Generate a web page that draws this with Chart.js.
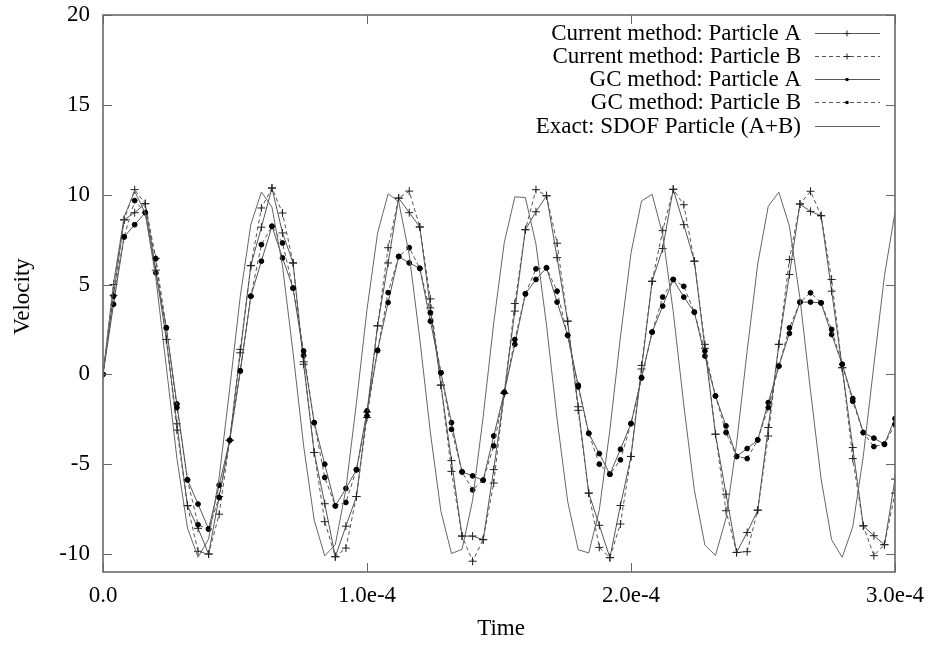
<!DOCTYPE html>
<html>
<head>
<meta charset="utf-8">
<script src="https://cdn.jsdelivr.net/npm/chart.js@4/dist/chart.umd.min.js"></script>
<style>
html,body{margin:0;padding:0;background:#ffffff;}
#wrap{width:928px;height:645px;position:relative;}
</style>
</head>
<body>
<div id="wrap"><canvas id="c" width="928" height="645"></canvas></div>
<script>
const timeMicro = [0,4,8,12,16,20,24,28,32,36,40,44,48,52,56,60,64,68,72,76,80,84,88,92,96,100,104,108,112,116,120,124,128,132,136,140,144,148,152,156,160,164,168,172,176,180,184,188,192,196,200,204,208,212,216,220,224,228,232,236,240,244,248,252,256,260,264,268,272,276,280,284,288,292,296,300];

const seriesNames = ['Current method: Particle A','Current method: Particle B','GC method: Particle A','GC method: Particle B','Exact: SDOF Particle (A+B)'];

const currentA = [0,4.4,8.6,9.0,9.5,5.8,1.94,-2.75,-7.31,-8.57,-10.0,-6.8,-3.67,1.2,6.05,8.19,10.37,7.87,6.2,0.56,-4.35,-7.2,-10.15,-8.45,-6.8,-2.1,2.7,6.2,9.81,9.0,8.2,3.7,-0.6,-4.8,-9.0,-9.0,-9.2,-5.3,-1.05,3.52,8.05,9.05,9.94,6.5,2.96,-1.8,-6.61,-8.4,-10.2,-7.3,-4.57,0.3,5.18,7.0,10.3,8.33,6.3,1.45,-3.33,-6.67,-9.91,-8.8,-7.56,-2.96,1.67,5.56,9.48,9.07,8.83,4.63,0.37,-4.07,-8.43,-8.98,-9.48,-5.83];
const currentB = [0,5.0,8.6,10.28,9.5,6.45,1.94,-3.1,-7.31,-9.85,-10.0,-7.78,-3.67,1.39,6.05,9.26,10.37,8.98,6.2,0.7,-4.35,-8.2,-10.15,-9.67,-6.8,-2.4,2.7,7.05,9.81,10.2,8.2,4.2,-0.6,-5.4,-9.0,-10.4,-9.2,-6.05,-1.05,3.94,8.05,10.28,9.94,7.3,2.96,-2.0,-6.61,-9.63,-10.2,-8.33,-4.57,0.5,5.18,8.0,10.3,9.44,6.3,1.67,-3.33,-7.59,-9.91,-9.87,-7.56,-3.43,1.67,6.39,9.48,10.19,8.83,5.28,0.37,-4.69,-8.43,-10.09,-9.48,-6.61];
const gcA = [0,3.9,7.65,8.33,9.0,5.65,2.59,-1.65,-5.87,-7.22,-8.61,-6.17,-3.67,0.18,4.35,6.3,8.24,6.48,4.8,1.05,-2.69,-5.0,-7.32,-6.35,-5.31,-2.04,1.33,4.0,6.56,6.2,5.9,2.96,0.09,-2.69,-5.43,-5.65,-5.89,-3.43,-1.0,1.67,4.48,5.28,5.93,4.02,2.17,-0.6,-3.28,-4.41,-5.56,-4.17,-2.74,-0.18,2.35,3.8,5.28,4.3,3.46,1.02,-1.2,-2.87,-4.57,-4.13,-3.65,-1.57,0.46,2.28,4.02,4.02,3.98,2.22,0.56,-1.35,-3.24,-3.55,-3.89,-2.46];
const gcB = [0,4.35,7.65,9.67,9.0,6.44,2.59,-1.85,-5.87,-8.37,-8.61,-6.85,-3.67,0.2,4.35,7.22,8.24,7.31,4.8,1.3,-2.69,-5.74,-7.32,-7.13,-5.31,-2.31,1.33,4.55,6.56,7.05,5.9,3.43,0.09,-3.06,-5.43,-6.43,-5.89,-3.98,-1.0,1.94,4.48,5.87,5.93,4.63,2.17,-0.7,-3.28,-5.0,-5.56,-4.76,-2.74,-0.2,2.35,4.3,5.28,4.9,3.46,1.3,-1.2,-3.24,-4.57,-4.69,-3.65,-1.85,0.46,2.59,4.02,4.54,3.98,2.5,0.56,-1.5,-3.24,-4.02,-3.89,-2.78];
const exact = [0,5.04,8.77,10.2,8.97,5.39,0.4,-4.68,-8.55,-10.18,-9.16,-5.74,-0.79,4.34,8.34,10.15,9.31,6.03,1.19,-3.98,-8.11,-10.1,-9.47,-6.39,-1.58,3.61,7.85,10.05,9.61,6.66,1.97,-3.23,-7.62,-9.97,-9.74,-7.01,-2.36,2.86,7.33,9.88,9.84,7.25,2.74,-2.48,-7.06,-9.76,-9.94,-7.54,-3.1,2.09,6.76,9.65,10.02,7.78,3.49,-1.71,-6.45,-9.5,-10.08,-8.0,-3.84,1.31,6.14,9.36,10.14,8.26,4.23,-0.92,-5.82,-9.21,-10.18,-8.49,-4.55,0.52,5.49,9.03];

const xTicks = [0, 1e-4, 2e-4, 3e-4];
const xTickLabels = ['0.0','1.0e-4','2.0e-4','3.0e-4'];
const yTicks = [-10,-5,0,5,10,15,20];
const xTitle = 'Time';
const yTitle = 'Velocity';

const FONT = "'Liberation Serif', 'DejaVu Serif', serif";
const FS = 23;
const LINE = '#555555';
const MARK = '#222222';
const DASH = [4,3];

function pts(arr){ return arr.map((v,i)=>({x: timeMicro[i]*1e-6, y: v})); }

const styles = [
  {dash: [], mark: 'cross'},
  {dash: DASH, mark: 'cross'},
  {dash: [], mark: 'circle'},
  {dash: DASH, mark: 'circle'},
  {dash: [], mark: null}
];
const allSeries = [currentA, currentB, gcA, gcB, exact];

const datasets = allSeries.map((arr, i) => {
  const st = styles[i];
  return {
    label: seriesNames[i],
    data: pts(arr),
    borderColor: i === 4 ? '#666666' : LINE,
    borderWidth: 1,
    borderDash: st.dash,
    backgroundColor: MARK,
    pointStyle: st.mark || 'circle',
    pointRadius: st.mark === 'cross' ? 4 : (st.mark === 'circle' ? 2.4 : 0),
    pointBorderColor: st.mark === 'circle' ? '#000' : MARK,
    pointBackgroundColor: '#000',
    pointBorderWidth: 1,
    pointHoverRadius: 0,
    tension: 0,
    fill: false,
    order: 5 - i
  };
});

const framePlugin = {
  id: 'frame',
  afterDraw(chart) {
    const {ctx, chartArea: a, scales: {x, y}} = chart;
    ctx.save();
    ctx.strokeStyle = '#666';
    ctx.lineWidth = 1;
    ctx.setLineDash([]);
    ctx.beginPath();
    for (const v of yTicks) {
      const py = Math.round(y.getPixelForValue(v)) + 0.5;
      ctx.moveTo(a.left, py); ctx.lineTo(a.left + 9, py);
      ctx.moveTo(a.right, py); ctx.lineTo(a.right - 9, py);
    }
    for (const v of xTicks) {
      const px = Math.round(x.getPixelForValue(v)) + 0.5;
      ctx.moveTo(px, a.bottom); ctx.lineTo(px, a.bottom - 9);
      ctx.moveTo(px, a.top); ctx.lineTo(px, a.top + 9);
    }
    ctx.stroke();
    ctx.lineWidth = 1.6;
    ctx.strokeStyle = '#6a6a6a';
    ctx.strokeRect(a.left, a.top, a.right - a.left, a.bottom - a.top);

    ctx.fillStyle = '#000';
    ctx.font = FS + 'px ' + FONT;
    ctx.textAlign = 'center';
    ctx.textBaseline = 'middle';
    ctx.fillText(xTitle, (a.left + a.right) / 2 + 2, 629);
    ctx.save();
    ctx.translate(23, (a.top + a.bottom) / 2 + 3);
    ctx.rotate(-Math.PI / 2);
    ctx.fillText(yTitle, 0, 0);
    ctx.restore();

    const textRight = 801, l0 = 815, l1 = 880, lc = 847;
    ctx.textAlign = 'right';
    chart.data.datasets.forEach((ds, i) => {
      const yy = 32.5 + i * 23.3;
      ctx.fillStyle = '#000';
      ctx.fillText(ds.label, textRight, yy + 1);
      const py = Math.round(yy) + 0.5;
      ctx.strokeStyle = ds.borderColor;
      ctx.lineWidth = 1;
      ctx.setLineDash(ds.borderDash);
      ctx.beginPath(); ctx.moveTo(l0, py); ctx.lineTo(l1, py); ctx.stroke();
      ctx.setLineDash([]);
      if (styles[i].mark === 'cross') {
        ctx.strokeStyle = MARK;
        ctx.beginPath();
        ctx.moveTo(lc - 3, py); ctx.lineTo(lc + 3, py);
        ctx.moveTo(lc, py - 3); ctx.lineTo(lc, py + 3);
        ctx.stroke();
      } else if (styles[i].mark === 'circle') {
        ctx.fillStyle = '#000';
        ctx.beginPath(); ctx.arc(lc, py, 1.8, 0, Math.PI * 2); ctx.fill();
      }
    });
    ctx.restore();
  }
};

new Chart(document.getElementById('c'), {
  type: 'line',
  data: { datasets },
  options: {
    responsive: false,
    animation: false,
    devicePixelRatio: 1,
    layout: { padding: { left: 0, top: 15, right: 33, bottom: 0 } },
    plugins: { legend: { display: false }, tooltip: { enabled: false } },
    elements: { line: { tension: 0 } },
    scales: {
      x: {
        type: 'linear',
        min: 0,
        max: 3e-4,
        grid: { display: false, drawTicks: false },
        border: { display: false },
        afterBuildTicks: (s) => { s.ticks = xTicks.map(v => ({ value: v })); },
        afterFit: (s) => { s.height = 73; s.paddingLeft = 0; s.paddingRight = 0; },
        ticks: {
          padding: 10.5,
          color: '#000',
          maxRotation: 0,
          autoSkip: false,
          font: { family: FONT, size: FS },
          callback: (v) => { const i = xTicks.indexOf(v); return i >= 0 ? xTickLabels[i] : ''; }
        }
      },
      y: {
        type: 'linear',
        min: -11,
        max: 20,
        grid: { display: false, drawTicks: false },
        border: { display: false },
        afterBuildTicks: (s) => { s.ticks = yTicks.map(v => ({ value: v })); },
        afterFit: (s) => { s.width = 103; s.paddingTop = 0; s.paddingBottom = 0; },
        ticks: {
          padding: 13,
          color: '#000',
          autoSkip: false,
          font: { family: FONT, size: FS },
          callback: (v) => String(v)
        }
      }
    }
  },
  plugins: [framePlugin]
});
</script>
</body>
</html>
